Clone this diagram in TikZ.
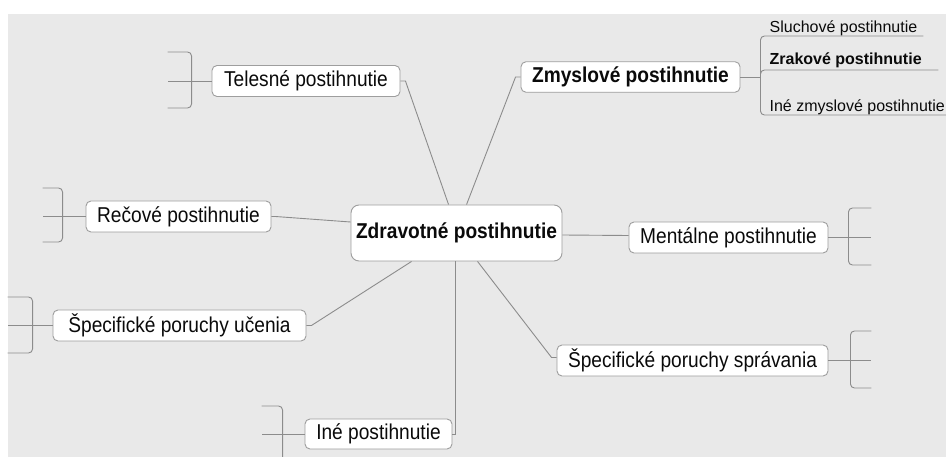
\documentclass[tikz,border=0pt]{standalone}
\usepackage{fontspec}
\setmainfont{Liberation Sans}
\newfontfamily\mapfont[FakeStretch=0.89]{Liberation Sans}
\usetikzlibrary{calc}
\definecolor{bgc}{HTML}{E9E9E9}
\definecolor{lnc}{HTML}{8C8C8C}
\definecolor{bdc}{HTML}{9E9E9E}
\definecolor{txc}{HTML}{0A0A0A}
\begin{document}
\begin{tikzpicture}[x=1pt,y=-1pt,
  topic/.style={draw=bdc, fill=white, rounded corners=5pt, line width=0.9pt, inner sep=0pt,
    text=txc, font=\mapfont\fontsize{21.5}{24}\selectfont},
  maintopic/.style={topic, rounded corners=8pt, font=\mapfont\fontsize{21.5}{24}\selectfont\bfseries},
  subtopic/.style={inner sep=0pt, text=txc, font=\fontsize{16}{19}\selectfont, anchor=base west},
  conn/.style={draw=lnc, line width=0.9pt},
  brk/.style={conn, rounded corners=4pt}]
\useasboundingbox (0,0) rectangle (946,457);
\fill[white] (0,0) rectangle (946,457);
\fill[bgc] (8,14) rectangle (946,457);

% nodes
\node[maintopic, minimum width=211pt, minimum height=56pt] (cen) at (456.5,233) {Zdravotné postihnutie};
\node[topic, minimum width=188pt, minimum height=31pt] (tel) at (306,81) {Telesné postihnutie};
\node[topic, font=\mapfont\fontsize{21.5}{24}\selectfont\bfseries, minimum width=219pt, minimum height=30.5pt] (zmy) at (630.5,77) {Zmyslové postihnutie};
\node[topic, minimum width=185pt, minimum height=31pt] (rec) at (178.5,216.5) {Rečové postihnutie};
\node[topic, minimum width=253pt, minimum height=31pt] (uce) at (179.5,325.5) {Špecifické poruchy učenia};
\node[topic, minimum width=199pt, minimum height=31pt] (men) at (728.5,237.5) {Mentálne postihnutie};
\node[topic, minimum width=271pt, minimum height=31pt] (spr) at (692.5,360.5) {Špecifické poruchy správania};
\node[topic, minimum width=147pt, minimum height=30pt] (ine) at (378.5,434) {Iné postihnutie};

% connectors from the central topic
\draw[conn] (tel.east) -- ++(5,0) -- ($(cen.north west)+(98,0)$);
\draw[conn] (zmy.west) -- ++(-5,0) -- ($(cen.north west)+(116,0)$);
\draw[conn] (rec.east) -- ++(4,0) -- ($(cen.west)+(0,-11)$);
\draw[conn] (uce.east) -- ++(5,0) -- ($(cen.south west)+(61,0)$);
\draw[conn] ($(cen.south west)+(105,0)$) |- (ine.east);
\draw[conn] ($(cen.south west)+(127,0)$) -- ($(spr.west)+(-5,-3)$) -- ($(spr.west)+(0,-3)$);
\draw[conn] ($(cen.east)+(0,2)$) -- ($(men.west)+(0,-2)$);

% brackets of the topics
\draw[conn] (tel.west) -- ++(-44,0);
\draw[brk] ($(tel.west)+(-44,-29)$) -- ++(24,0) -- ++(0,56) -- ++(-24,0);
\draw[conn] (rec.west) -- ++(-43,0);
\draw[brk] ($(rec.west)+(-43,-28.5)$) -- ++(20,0) -- ++(0,54) -- ++(-20,0);
\draw[conn] (uce.west) -- ++(-45,0);
\draw[brk] ($(uce.west)+(-45,-28.5)$) -- ++(25,0) -- ++(0,56) -- ++(-25,0);
\draw[conn] (ine.west) -- ++(-43,0);
\draw[brk] ($(ine.west)+(-43,-28)$) -- ++(21,0) -- ++(0,52);
\draw[conn] (men.east) -- ++(43,0);
\draw[brk] ($(men.east)+(43,-29.5)$) -- ++(-23,0) -- ++(0,57) -- ++(23,0);
\draw[conn] (spr.east) -- ++(43,0);
\draw[brk] ($(spr.east)+(43,-29.5)$) -- ++(-21,0) -- ++(0,57) -- ++(21,0);

% sensory sub-topics
\draw[conn] (zmy.east) -- ++(20,0) coordinate (zb);
\draw[brk] ($(zb)+(163,-41)$) -- ($(zb)+(0,-41)$) -- ($(zb)+(0,38)$) -- ($(zb)+(190,38)$);
\draw[brk] ($(zb)+(0,5)$) -- ($(zb)+(0,-7)$) -- ($(zb)+(178,-7)$);
\node[subtopic] (slu) at ($(zb)+(9,-44)$) {Sluchové postihnutie};
\node[subtopic, font=\fontsize{16}{19}\selectfont\bfseries] (zra) at ($(zb)+(9,-12)$) {Zrakové postihnutie};
\node[subtopic] (izm) at ($(zb)+(9,34.7)$) {Iné zmyslové postihnutie};
\end{tikzpicture}
\end{document}
